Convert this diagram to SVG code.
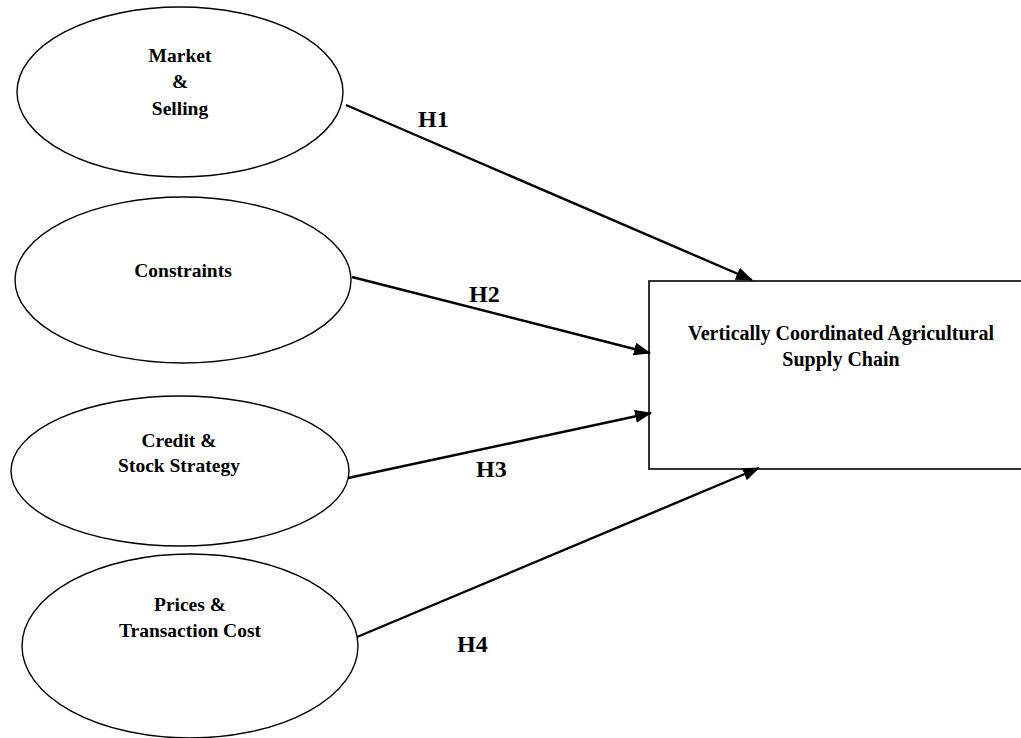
<svg xmlns="http://www.w3.org/2000/svg" width="1021" height="738" viewBox="0 0 1021 738">
<style>
.ell{fill:#fff;stroke:#000;stroke-width:1.4}
.box{fill:#fff;stroke:#000;stroke-width:1.6}
.t{font-family:"Liberation Serif","Times New Roman",serif;font-weight:bold;font-size:19.5px;fill:#000;text-anchor:middle}
.tb{font-family:"Liberation Serif","Times New Roman",serif;font-weight:bold;font-size:20px;fill:#000;text-anchor:middle}
.h{font-family:"Liberation Serif","Times New Roman",serif;font-weight:bold;font-size:24px;fill:#000}
.arr{stroke:#000;stroke-width:2.4;fill:none;marker-end:url(#ah)}
</style>
<defs>
<marker id="ah" markerUnits="userSpaceOnUse" markerWidth="17" markerHeight="13" refX="16" refY="6.5" orient="auto">
<path d="M0,0 L17,6.5 L0,13 Z" fill="#000"/>
</marker>
</defs>
<rect width="1021" height="738" fill="#fff"/>
<g id="market">
<ellipse class="ell" cx="180" cy="92" rx="163" ry="85"/>
<text class="t" x="180" y="62">Market</text>
<text class="t" x="180" y="88">&amp;</text>
<text class="t" x="180" y="115">Selling</text>
</g>
<g id="constraints">
<ellipse class="ell" cx="183" cy="280" rx="168" ry="83"/>
<text class="t" x="183" y="277">Constraints</text>
</g>
<g id="credit">
<ellipse class="ell" cx="180" cy="471" rx="169" ry="75"/>
<text class="t" x="179" y="447">Credit &amp;</text>
<text class="t" x="179" y="472">Stock Strategy</text>
</g>
<g id="prices">
<ellipse class="ell" cx="190" cy="646" rx="168" ry="92"/>
<text class="t" x="190" y="611">Prices &amp;</text>
<text class="t" x="190" y="637">Transaction Cost</text>
</g>
<g id="vcasc">
<rect class="box" x="649" y="281" width="380" height="188"/>
<text class="tb" x="841" y="340">Vertically Coordinated Agricultural</text>
<text class="tb" x="841" y="366">Supply Chain</text>
</g>
<g id="connectors">
<line class="arr" x1="346" y1="105" x2="752" y2="280"/>
<line class="arr" x1="352" y1="277" x2="650" y2="353"/>
<line class="arr" x1="348" y1="478" x2="651" y2="413"/>
<line class="arr" x1="357" y1="637" x2="759" y2="468"/>
<text class="h" x="418" y="127">H1</text>
<text class="h" x="469" y="302">H2</text>
<text class="h" x="476" y="477">H3</text>
<text class="h" x="457" y="652">H4</text>
</g>
</svg>
